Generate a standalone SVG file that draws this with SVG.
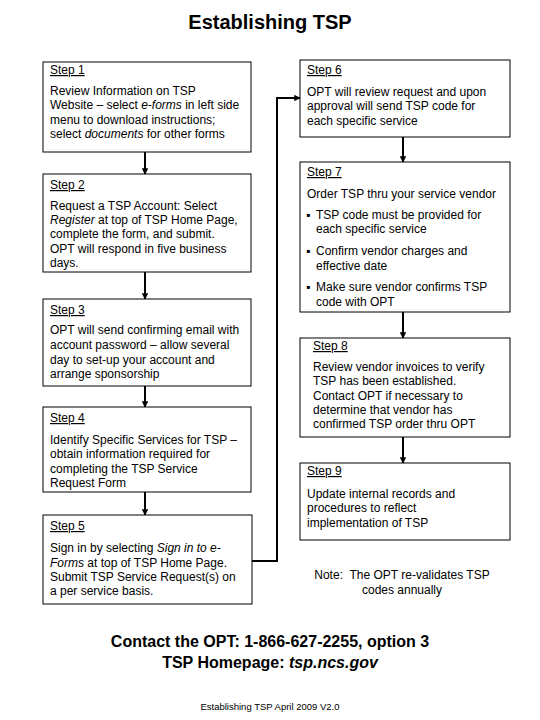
<svg xmlns="http://www.w3.org/2000/svg" width="540" height="720" viewBox="0 0 540 720">
<defs>
<style>
text{font-family:"Liberation Sans",Arial,sans-serif;fill:#000}
.box{fill:#fff;stroke:#000;stroke-width:1}
.t{font-size:12px}
.lbl{font-size:12px;text-decoration:underline}
.i{font-style:italic}
.con{fill:none;stroke:#000;stroke-width:2}
</style>
<marker id="ah" viewBox="0 0 10 10" refX="9" refY="5" markerWidth="3.2" markerHeight="3.2" orient="auto" markerUnits="strokeWidth">
<path d="M0,0 L10,5 L0,10 z" fill="#000"/>
</marker>
</defs>
<rect width="540" height="720" fill="#fff"/>
<text x="270" y="29" font-size="20" font-weight="bold" text-anchor="middle">Establishing TSP</text>

<g id="connectors">
<line class="con" x1="145" y1="152" x2="145" y2="174" marker-end="url(#ah)"/>
<line class="con" x1="145" y1="272" x2="145" y2="299" marker-end="url(#ah)"/>
<line class="con" x1="145" y1="386" x2="145" y2="407" marker-end="url(#ah)"/>
<line class="con" x1="145" y1="492" x2="145" y2="515" marker-end="url(#ah)"/>
<polyline class="con" points="252,561 277,561 277,98 300,98" marker-end="url(#ah)"/>
<line class="con" x1="403" y1="137" x2="403" y2="162" marker-end="url(#ah)"/>
<line class="con" x1="403" y1="312" x2="403" y2="338" marker-end="url(#ah)"/>
<line class="con" x1="403" y1="437" x2="403" y2="463" marker-end="url(#ah)"/>
</g>

<g id="step1">
<rect class="box" x="43" y="62" width="208" height="90"/>
<text class="lbl" x="50" y="74">Step 1</text>
<text class="t" x="50" y="95">Review Information on TSP</text>
<text class="t" x="50" y="109">Website – select <tspan class="i">e-forms</tspan> in left side</text>
<text class="t" x="50" y="124">menu to download instructions;</text>
<text class="t" x="50" y="138">select <tspan class="i">documents</tspan> for other forms</text>
</g>

<g id="step2">
<rect class="box" x="43" y="174" width="208" height="98"/>
<text class="lbl" x="50" y="189">Step 2</text>
<text class="t" x="50" y="210">Request a TSP Account: Select</text>
<text class="t" x="50" y="224"><tspan class="i">Register</tspan> at top of TSP Home Page,</text>
<text class="t" x="50" y="238">complete the form, and submit.</text>
<text class="t" x="50" y="253">OPT will respond in five business</text>
<text class="t" x="50" y="267">days.</text>
</g>

<g id="step3">
<rect class="box" x="43" y="299" width="208" height="87"/>
<text class="lbl" x="50" y="314">Step 3</text>
<text class="t" x="50" y="334">OPT will send confirming email with</text>
<text class="t" x="50" y="349">account password – allow several</text>
<text class="t" x="50" y="364">day to set-up  your account and</text>
<text class="t" x="50" y="378">arrange sponsorship</text>
</g>

<g id="step4">
<rect class="box" x="43" y="407" width="208" height="85"/>
<text class="lbl" x="50" y="422">Step 4</text>
<text class="t" x="50" y="444">Identify Specific Services for TSP –</text>
<text class="t" x="50" y="458">obtain information required for</text>
<text class="t" x="50" y="473">completing the TSP Service</text>
<text class="t" x="50" y="487">Request Form</text>
</g>

<g id="step5">
<rect class="box" x="43" y="515" width="209" height="89"/>
<text class="lbl" x="50" y="530">Step 5</text>
<text class="t" x="50" y="552">Sign in by selecting <tspan class="i">Sign in to e-</tspan></text>
<text class="t" x="50" y="567"><tspan class="i">Forms</tspan> at top of TSP Home Page.</text>
<text class="t" x="50" y="581">Submit TSP Service Request(s) on</text>
<text class="t" x="50" y="595">a per service basis.</text>
</g>

<g id="step6">
<rect class="box" x="300" y="60" width="210" height="77"/>
<text class="lbl" x="307" y="74">Step 6</text>
<text class="t" x="307" y="96">OPT will review request and upon</text>
<text class="t" x="307" y="110">approval will send TSP code for</text>
<text class="t" x="307" y="125">each specific service</text>
</g>

<g id="step7">
<rect class="box" x="300" y="162" width="210" height="150"/>
<text class="lbl" x="307" y="176">Step 7</text>
<text class="t" x="307" y="198">Order TSP thru your service vendor</text>
<text class="t" x="306" y="219">▪</text>
<text class="t" x="316" y="219">TSP code must be provided for</text>
<text class="t" x="316" y="233">each specific service</text>
<text class="t" x="306" y="255">▪</text>
<text class="t" x="316" y="255">Confirm vendor charges and</text>
<text class="t" x="316" y="270">effective date</text>
<text class="t" x="306" y="291">▪</text>
<text class="t" x="316" y="291">Make sure vendor confirms TSP</text>
<text class="t" x="316" y="306">code with OPT</text>
</g>

<g id="step8">
<rect class="box" x="300" y="338" width="210" height="99"/>
<text class="lbl" x="313" y="350">Step 8</text>
<text class="t" x="313" y="371">Review vendor invoices to verify</text>
<text class="t" x="313" y="385">TSP has been established.</text>
<text class="t" x="313" y="400">Contact OPT if necessary to</text>
<text class="t" x="313" y="414">determine that vendor has</text>
<text class="t" x="313" y="428">confirmed TSP order thru OPT</text>
</g>

<g id="step9">
<rect class="box" x="300" y="463" width="210" height="77"/>
<text class="lbl" x="307" y="475">Step 9</text>
<text class="t" x="307" y="498">Update internal records and</text>
<text class="t" x="307" y="512">procedures to reflect</text>
<text class="t" x="307" y="527">implementation of TSP</text>
</g>

<g id="note">
<text class="t" x="402" y="579" text-anchor="middle" xml:space="preserve">Note:  The OPT re-validates TSP</text>
<text class="t" x="402" y="594" text-anchor="middle">codes annually</text>
</g>

<text x="270" y="647" font-size="16" font-weight="bold" text-anchor="middle">Contact the OPT: 1-866-627-2255, option 3</text>
<text x="270" y="668" font-size="16" font-weight="bold" text-anchor="middle">TSP Homepage: <tspan class="i">tsp.ncs.gov</tspan></text>
<text x="270" y="710" font-size="9.5" text-anchor="middle">Establishing TSP April 2009 V2.0</text>
</svg>
